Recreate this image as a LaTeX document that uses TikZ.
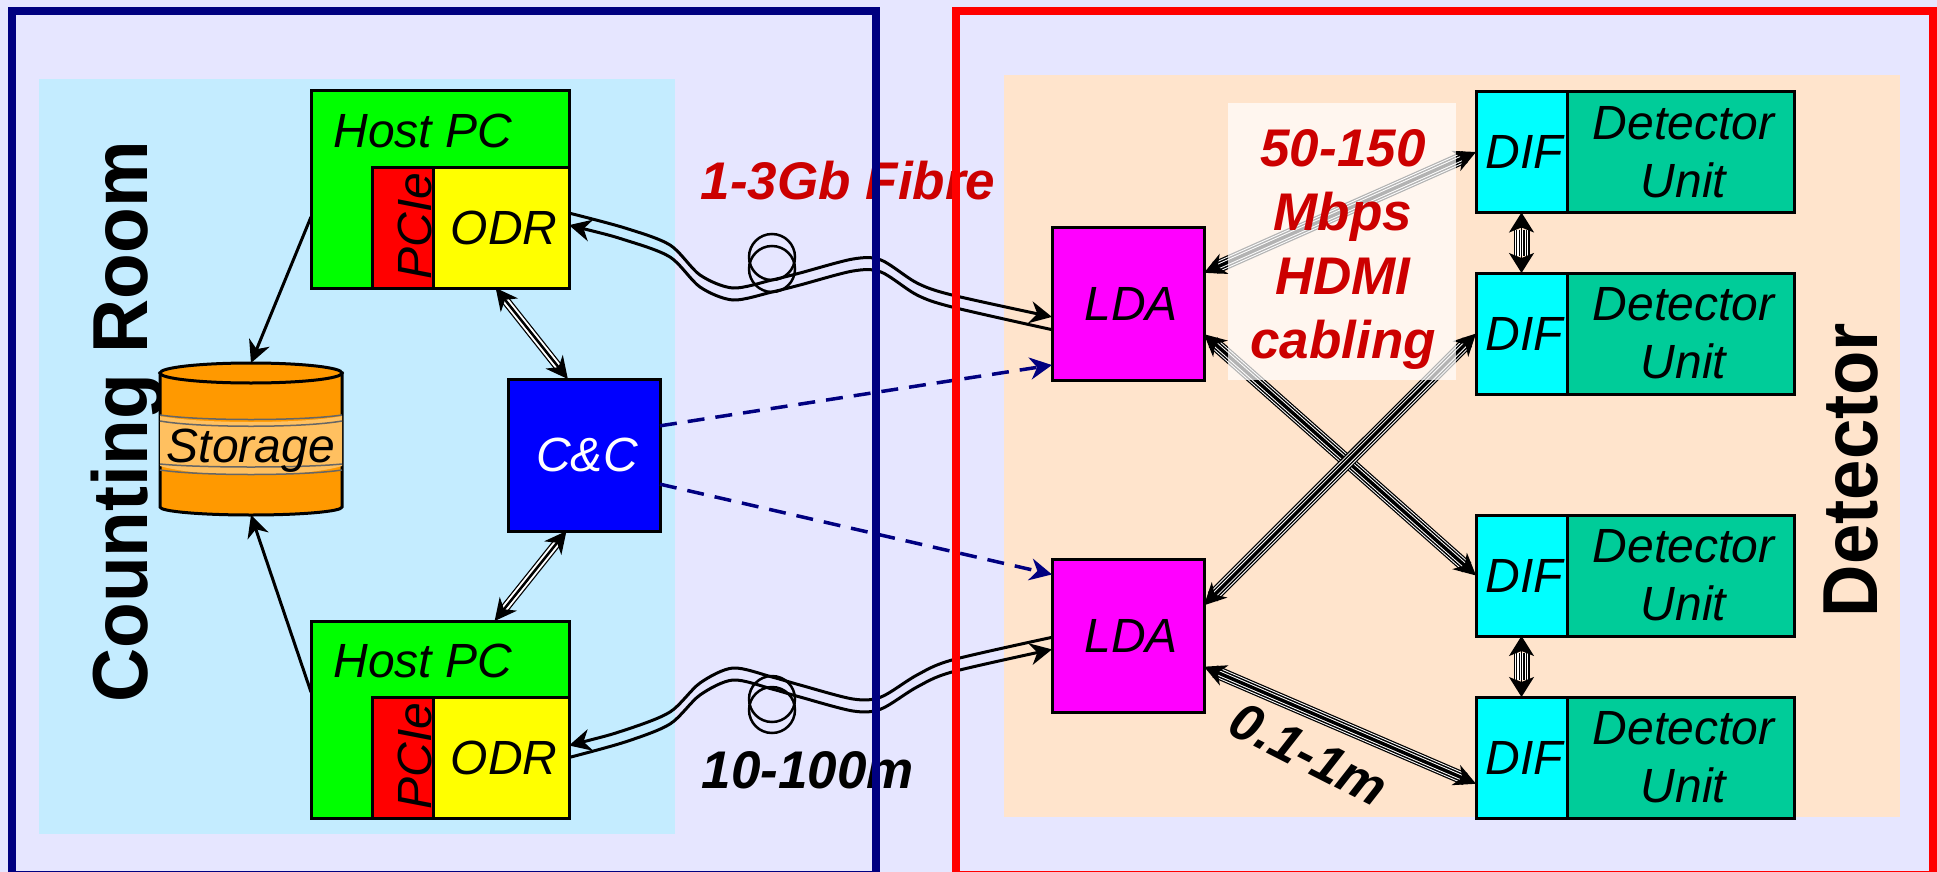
\documentclass[tikz,border=0pt]{standalone}
\usepackage{fontspec}
\setmainfont{Liberation Sans}
\usetikzlibrary{arrows.meta}
\definecolor{pagebg}{HTML}{E6E6FF}
\definecolor{roompanel}{HTML}{C4ECFF}
\definecolor{detpanel}{HTML}{FFE4CC}
\definecolor{framenavy}{HTML}{000080}
\definecolor{labelred}{HTML}{CC0000}
\definecolor{unitgreen}{HTML}{00CC99}
\definecolor{storeorange}{HTML}{FF9900}
\definecolor{storeband}{HTML}{FFC060}
\definecolor{pcgreen}{HTML}{00FF00}
\definecolor{odryellow}{HTML}{FFFF00}
\definecolor{piered}{HTML}{FF0000}
\definecolor{ccblue}{HTML}{0000FF}
\definecolor{ldapink}{HTML}{FF00FF}
\definecolor{difcyan}{HTML}{00FFFF}
\newcommand{\nudge}{\hspace*{6pt}}

\begin{document}
\begin{tikzpicture}[x=1pt, y=-1pt, >={Stealth[length=22pt,width=22pt,inset=7pt]},
		boxnode/.style={draw, line width=3pt, inner sep=0pt, outer sep=0pt, font=\fontsize{48}{58}\selectfont\itshape, align=center},
		plaintext/.style={inner sep=0pt, font=\fontsize{48}{58}\selectfont\itshape},
		bigtext/.style={inner sep=0pt, rotate=90, anchor=base, font=\fontsize{78}{90}\selectfont\bfseries},
		linktext/.style={inner sep=0pt, font=\fontsize{53}{64}\selectfont\bfseries\itshape},
		frame/.style={draw, line width=8pt, inner sep=0pt, minimum height=864pt},
		link/.style={line width=3pt},
		fibre/.style={line width=3pt},
		ctrl/.style={framenavy, line width=3.5pt, dash pattern=on 17pt off 11pt},
		coil/.style={draw, line width=2.5pt, circle, minimum size=46pt, inner sep=0pt},
	]
	\clip (0,0) rectangle (1937,872);
	\fill[pagebg] (0,0) rectangle (1937,872);
	\fill[roompanel] (39,79) rectangle (675,834);
	\fill[detpanel] (1004,75) rectangle (1900,817);

	\node[bigtext, xscale=.96] (roomname) at (147,422) {Counting Room};
	\node[bigtext, xscale=.93] (detname) at (1877,470) {Detector};

	% readout PCs
	\foreach \n/\y in {one/91,two/621}{
			\node[boxnode, fill=pcgreen, minimum width=258pt, minimum height=197pt] (host\n) at (440,\y+98.5) {};
			\node[boxnode, fill=piered, minimum width=61pt, minimum height=121pt] (pcie\n) at (402.5,\y+136.5) {};
			\node[boxnode, fill=odryellow, minimum width=136pt, minimum height=121pt] (odr\n) at (501,\y+136.5) {\nudge ODR};
			\node[plaintext] (hostname\n) at (423,\y+40) {Host PC};
			\node[plaintext, rotate=90, anchor=base] (piename\n) at (431,\y+135) {PCIe};
		}

	% storage drum
	\node[inner sep=0pt, outer sep=0pt, minimum width=182pt, minimum height=152pt] (storage) at (251,439) {};
	\draw[line width=3pt, fill=storeorange] (160,373) -- (160,507) arc[x radius=91, y radius=8, start angle=180, end angle=0] -- (342,373) -- cycle;
	\draw[line width=3pt, fill=storeorange] (251,373) ellipse[x radius=91, y radius=10];
	\fill[storeband] (160,416) .. controls (200,424) and (302,424) .. (342,416) -- (342,466) .. controls (302,478) and (200,478) .. (160,466) -- cycle;
	\foreach \y/\d in {415/6,421/7,464/4,470/6}{
			\draw[black!60, line width=1.5pt] (160,\y) .. controls (200,\y+\d) and (302,\y+\d) .. (342,\y);
		}
	\node[plaintext, anchor=base] (storename) at (251,462) {Storage};

	\node[boxnode, fill=ccblue, text=white, minimum width=152pt, minimum height=152pt] (cc) at (584,455) {\nudge C\&C};
	\node[boxnode, fill=ldapink, minimum width=152pt, minimum height=153pt] (ldaone) at (1128,303.5) {\nudge LDA};
	\node[boxnode, fill=ldapink, minimum width=152pt, minimum height=153pt] (ldatwo) at (1128,636) {\nudge LDA};
	\foreach \n/\y in {one/152,two/333.5,three/575.5,four/757.5}{
			\node[boxnode, fill=difcyan, minimum width=91pt, minimum height=121pt] (dif\n) at (1521.5,\y) {\nudge DIF};
			\node[boxnode, fill=unitgreen, minimum width=227pt, minimum height=121pt] (unit\n) at (1680.5,\y) {\nudge Detector\\\nudge Unit};
		}

	\draw[->, link] (hostone.192) -- (storage.north);
	\draw[->, link] (hosttwo.168) -- (storage.south);

	\foreach \p/\q in {odrone.265/cc.102.6,cc.257.4/hosttwo.61}{
			\foreach \w/\c in {9/black,6.5/white,2.5/black}{
					\draw[line width=\w pt, \c, shorten >=12pt, shorten <=12pt] (\p) -- (\q);
				}
			\draw[<->, line width=1.5pt] (\p) -- (\q);
		}
	\foreach \p/\q in {ldaone.22/difone.west,ldaone.-22/difthree.west,ldatwo.22/diftwo.west,ldatwo.-22/diffour.210}{
			\foreach \w/\c in {13/black,10.5/white,8.5/black,5.5/white,3.5/black}{
					\draw[line width=\w pt, \c, shorten >=12pt, shorten <=12pt] (\p) -- (\q);
				}
			\draw[<->, line width=1.5pt] (\p) -- (\q);
		}
	\foreach \p/\q in {difone.south/diftwo.north,difthree.south/diffour.north}{
			\foreach \w/\c in {16/black,13.5/white,11/black,8.5/white,6/black,3.5/white,1.5/black}{
					\draw[line width=\w pt, \c, shorten >=17pt, shorten <=17pt] (\p) -- (\q);
				}
			\draw[{Stealth[length=20pt,width=25pt,inset=5pt]}-{Stealth[length=20pt,width=25pt,inset=5pt]}, line width=1.5pt] (\p) -- (\q);
		}

	\node[fill=white, fill opacity=.7, inner sep=0pt, minimum width=228pt, minimum height=277pt] (hdmipanel) at (1342,241.5) {};
	\node[text=labelred, inner sep=0pt, align=center, font=\fontsize{53}{64}\selectfont\bfseries\itshape] (hdmilabel) at (1343,249) {50-150\\Mbps\\HDMI\\cabling};

	% fibre pairs, second line 12 lower
	\foreach \a/\b/\d/\tip in {12/190/0/->,2/199/12/<-}{
			\draw[fibre, \tip] plot[smooth] coordinates {(odrone.\a) (625,228+\d) (670,245+\d) (700,275+\d) (733,288+\d) (772,280+\d) (800,273+\d) (853,259+\d) (881,260+\d) (917,283+\d) (952,295+\d) (ldaone.\b)};
		}
	\foreach \a/\b/\d/\tip in {10/181/0/<-,0/190/12/->}{
			\draw[fibre, \tip] plot[smooth] coordinates {(odrtwo.\a) (625,730+\d) (670,712+\d) (700,683+\d) (733,668+\d) (772,677+\d) (800,685+\d) (853,699+\d) (881,697+\d) (917,675+\d) (952,660+\d) (ldatwo.\b)};
		}
	\node[coil] (coilone) at (772,257) {};
	\node[coil] (coiltwo) at (772,269) {};
	\node[coil] (coilthree) at (772,699) {};
	\node[coil] (coilfour) at (772,710) {};

	\draw[->, ctrl] (cc.21.5) -- (ldaone.219);
	\draw[->, ctrl] (cc.-21.5) -- (ldatwo.141);

	\node[linktext, text=labelred] (fibrelabel) at (848,181) {1-3Gb Fibre};
	\node[linktext] (lengthlabel) at (808,770) {10-100m};
	\node[linktext, rotate=-27] (shortlabel) at (1309,754) {0.1-1m};

	\node[frame, framenavy, minimum width=864pt] (roomframe) at (444,443) {};
	\node[frame, red, minimum width=977pt] (detframe) at (1444.5,443) {};
\end{tikzpicture}
\end{document}
